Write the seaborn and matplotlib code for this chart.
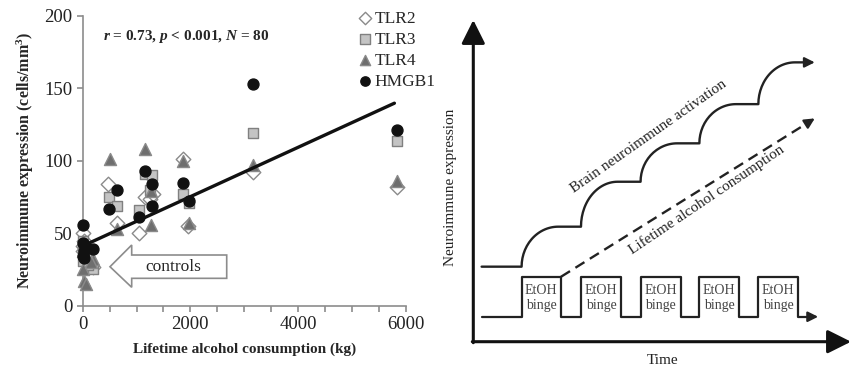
import numpy as np
import pandas as pd
import matplotlib
matplotlib.use('Agg')
import matplotlib.pyplot as plt
import seaborn as sns
from matplotlib.patches import Polygon
from matplotlib.ticker import MultipleLocator

# ---------------- data ----------------
# left panel: lifetime alcohol (kg) vs neuroimmune expression (cells/mm3)
tlr2_x = [0, 0, 30, 200, 100, 0, 470, 640, 1040, 1160, 1250, 1300, 1860, 1960, 3170, 5830]
tlr2_y = [50, 41, 45, 27, 30, 38, 84, 57, 50, 75, 74, 77, 101, 55, 92, 82]
tlr3_x = [0, 0, 200, 100, 60, 0, 480, 640, 1040, 1160, 1280, 1250, 1860, 1970, 3170, 5830]
tlr3_y = [45, 31, 25, 28, 35, 40, 75, 69, 66, 91, 90, 80, 77, 71, 119, 114]
tlr4_x = [0, 30, 60, 200, 150, 0, 500, 630, 1160, 1260, 1260, 1860, 1970, 3170, 5830]
tlr4_y = [25, 17, 15, 32, 30, 38, 101, 53, 108, 79, 56, 100, 57, 97, 86]
hmgb1_x = [0, 0, 30, 0, 200, 80, 20, 490, 640, 1040, 1160, 1280, 1280, 1860, 1970, 3170, 5830]
hmgb1_y = [56, 43, 38, 34, 39, 40, 33, 67, 80, 61, 93, 84, 69, 85, 72, 153, 121]

fit_x = [40, 5790]
fit_y = [41.9, 139.8]

stats_text = r'$r$ = 0.73, $p$ < 0.001, $N$ = 80'

# right panel: schematic (time units)
binge_start = [2.44, 5.44, 8.45, 11.42, 14.40]
binge_end = [4.43, 7.46, 10.47, 13.43, 16.41]
wave_low, wave_high = 1.26, 3.28
wave_from, wave_to = 0.42, 17.42
levels = [3.79, 5.81, 8.08, 10.02, 12.00, 14.11]
curve_from, curve_to = 0.42, 17.25
dash_from = (4.43, 3.28)
dash_to = (17.25, 11.28)

# ---------------- style ----------------
sns.set_theme(style='white')
plt.rcParams['font.family'] = ['Liberation Serif', 'DejaVu Serif']
plt.rcParams['mathtext.fontset'] = 'custom'
plt.rcParams['mathtext.rm'] = 'Liberation Serif:bold'
plt.rcParams['mathtext.it'] = 'Liberation Serif:italic:bold'
plt.rcParams['mathtext.bf'] = 'Liberation Serif:bold'

fig = plt.figure(figsize=(8.51, 3.72), dpi=100)
W, H = 851, 372

# ---------------- left: scatter ----------------
ax = fig.add_axes([82.7 / W, 1 - 305.7 / H, 323 / W, 289.7 / H])

series = [
    ('TLR2', tlr2_x, tlr2_y, 'D', 'white', '#8a8a8a', 55),
    ('TLR3', tlr3_x, tlr3_y, 's', '#c4c4c4', '#808080', 62),
    ('TLR4', tlr4_x, tlr4_y, '^', '#6e6e6e', '#8a8a8a', 75),
    ('HMGB1', hmgb1_x, hmgb1_y, 'o', '#111111', '#111111', 62),
]
for name, xs, ys, mk, fc, ec, s in series:
    df = pd.DataFrame({'x': xs, 'y': ys})
    sns.scatterplot(data=df, x='x', y='y', marker=mk, color=fc, edgecolor=ec,
                    linewidth=1.0, s=s, ax=ax, label=name, clip_on=False, zorder=3)

sns.lineplot(x=fit_x, y=fit_y, color='#111111', linewidth=2.4, ax=ax, zorder=4)

ax.set_xlim(0, 6000)
ax.set_ylim(0, 200)
ax.xaxis.set_major_locator(MultipleLocator(2000))
ax.xaxis.set_minor_locator(MultipleLocator(500))
ax.yaxis.set_major_locator(MultipleLocator(50))
for side in ['top', 'right']:
    ax.spines[side].set_visible(False)
for side in ['left', 'bottom']:
    ax.spines[side].set_color('#8c8c8c')
    ax.spines[side].set_linewidth(1.2)
ax.tick_params(axis='both', which='both', direction='out', color='#8c8c8c',
               labelsize=13.5, labelcolor='#222222', width=1.2)
ax.tick_params(axis='both', which='major', length=4, bottom=True, left=True)
ax.tick_params(axis='x', which='minor', length=4, bottom=True)
ax.set_xlabel('Lifetime alcohol consumption (kg)', fontsize=11, fontweight='bold', labelpad=7)
ax.set_ylabel(r'Neuroimmune expression (cells/mm$^{3}$)', fontsize=11.5, fontweight='bold', labelpad=6)

ax.text(0.064, 0.93, stats_text, transform=ax.transAxes, fontsize=11,
        fontweight='bold', va='center', ha='left')

# controls arrow (hollow block arrow pointing left)
arrow_pts = [(507, 26.9), (910, 41.9), (910, 35.0), (2675, 35.0),
             (2675, 18.9), (910, 18.9), (910, 12.7)]
ax.add_patch(Polygon(arrow_pts, closed=True, facecolor='white',
                     edgecolor='#8c8c8c', linewidth=1.2, zorder=5))
ax.text(1680, 27, 'controls', fontsize=12.5, ha='center', va='center', zorder=6)

leg = ax.legend(loc='upper left', bbox_to_anchor=(348 / W, 1 - 2 / H),
                bbox_transform=fig.transFigure, frameon=False, fontsize=12.5,
                handletextpad=0.05, labelspacing=0.28, borderpad=0, handlelength=1.0,
                markerscale=0.85)

# ---------------- right: schematic ----------------
ax2 = fig.add_axes([473.3 / W, 1 - 341.7 / H, (W - 473.3) / W, 321.7 / H])
ax2.set_xlim(0, 19.08)
ax2.set_ylim(0, 16.25)
ax2.axis('off')

axis_arrow = dict(arrowstyle='-|>,head_width=0.6,head_length=1.2', color='#111111',
                  lw=2.2, shrinkA=0, shrinkB=0)
ax2.annotate('', xy=(19.08, 0), xytext=(-0.05, 0), arrowprops=axis_arrow, annotation_clip=False)
ax2.annotate('', xy=(0, 16.25), xytext=(0, -0.05), arrowprops=axis_arrow, annotation_clip=False)

# square wave of binges
wx, wy = [wave_from], [wave_low]
for s0, e0 in zip(binge_start, binge_end):
    wx += [s0, s0, e0, e0]
    wy += [wave_low, wave_high, wave_high, wave_low]
wx += [wave_to - 0.3]
wy += [wave_low]
sns.lineplot(x=wx, y=wy, sort=False, estimator=None, color='#222222', linewidth=1.6, ax=ax2)
small_arrow = dict(arrowstyle='-|>,head_width=0.25,head_length=0.5', color='#222222',
                   lw=1.6, shrinkA=0, shrinkB=0)
ax2.annotate('', xy=(wave_to, wave_low), xytext=(wave_to - 0.4, wave_low), arrowprops=small_arrow)
for s0, e0 in zip(binge_start, binge_end):
    c = (s0 + e0) / 2
    ax2.text(c, 2.61, 'EtOH', fontsize=10, ha='center', va='center', color='#444444')
    ax2.text(c, 1.85, 'binge', fontsize=10, ha='center', va='center', color='#444444')

# neuroimmune activation curve: plateaus joined by rounded rises
arc_w = 1.85
theta = np.linspace(0, np.pi / 2, 30)
cx, cy = [curve_from], [levels[0]]
for i, s0 in enumerate(binge_start):
    lo, hi = levels[i], levels[i + 1]
    cx += list(s0 + arc_w * (1 - np.cos(theta)))
    cy += list(lo + (hi - lo) * np.sin(theta))
cx += [curve_to - 0.3]
cy += [levels[-1]]
sns.lineplot(x=cx, y=cy, sort=False, estimator=None, color='#222222', linewidth=1.7, ax=ax2)
ax2.annotate('', xy=(curve_to, levels[-1]), xytext=(curve_to - 0.4, levels[-1]), arrowprops=small_arrow)

# lifetime alcohol consumption dashed arrow
ax2.plot([dash_from[0], dash_to[0] - 0.35], [dash_from[1], dash_to[1] - 0.22],
         color='#222222', linewidth=1.7, dashes=(4.5, 2.7))
ax2.annotate('', xy=dash_to, xytext=(dash_to[0] - 0.4, dash_to[1] - 0.25), arrowprops=small_arrow)

ax2.text(8.84, 10.35, 'Brain neuroimmune activation', fontsize=11, rotation=35,
         ha='center', va='center', rotation_mode='anchor', color='#222222')
ax2.text(11.79, 7.16, 'Lifetime alcohol consumption', fontsize=11, rotation=34,
         ha='center', va='center', rotation_mode='anchor', color='#222222')

fig.text(450 / W, 1 - 187 / H, 'Neuroimmune expression', fontsize=11, rotation=90,
         ha='center', va='center', color='#222222')
fig.text(663 / W, 1 - 361 / H, 'Time', fontsize=11, ha='center', va='center', color='#222222')

fig.savefig('out.png', dpi=100)
